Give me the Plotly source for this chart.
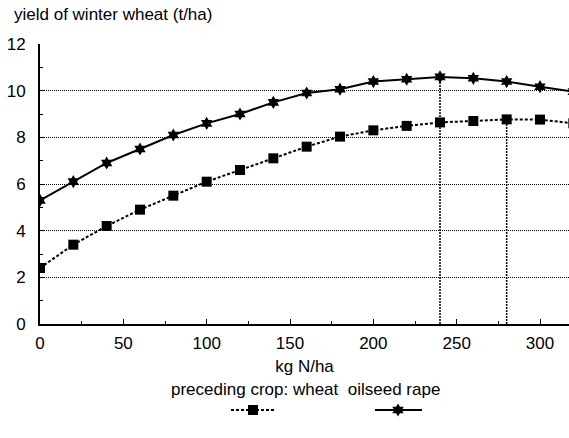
import plotly.graph_objects as go

# Nitrogen rate (kg N/ha) and winter wheat yield (t/ha) by preceding crop
n_rate = [0, 20, 40, 60, 80, 100, 120, 140, 160, 180, 200, 220, 240, 260, 280, 300, 320]
yield_after_wheat = [2.4, 3.4, 4.2, 4.9, 5.5, 6.1, 6.6, 7.1, 7.6, 8.03, 8.3, 8.49, 8.64, 8.7, 8.77, 8.76, 8.6]
yield_after_rape = [5.3, 6.1, 6.9, 7.5, 8.1, 8.6, 9.0, 9.5, 9.9, 10.06, 10.39, 10.49, 10.59, 10.53, 10.39, 10.17, 9.96]

# Economic optimum N rates marked with drop lines
opt_rape = 240
opt_wheat = 280

y_ticks = [0, 2, 4, 6, 8, 10, 12]
x_ticks = [0, 50, 100, 150, 200, 250, 300]

W, H = 569, 438
FONT = "Liberation Sans, Arial, sans-serif"
FS = 17

fig = go.Figure()

# Drop lines from the optimum points to the x axis
for xo, xs, ys in [(opt_rape, n_rate, yield_after_rape), (opt_wheat, n_rate, yield_after_wheat)]:
    yo = ys[xs.index(xo)]
    fig.add_trace(go.Scatter(
        x=[xo, xo], y=[0, yo], mode="lines",
        line=dict(color="black", width=1.5, dash="2px,1px"),
        showlegend=False, hoverinfo="skip"))

fig.add_trace(go.Scatter(
    x=n_rate, y=yield_after_wheat, mode="lines+markers", name="wheat",
    line=dict(color="black", width=2, dash="3px,2px"),
    marker=dict(symbol="square", size=10, color="black"),
    showlegend=False))

fig.add_trace(go.Scatter(
    x=n_rate, y=yield_after_rape, mode="lines+markers", name="oilseed rape",
    line=dict(color="black", width=2),
    marker=dict(symbol="hexagram", size=10, color="black"),
    showlegend=False))

# Legend keys drawn on a full-page overlay axis (pixel units)
fig.add_trace(go.Scatter(
    x=[231, 275], y=[410, 410], mode="lines", xaxis="x2", yaxis="y2",
    line=dict(color="black", width=2, dash="3px,2px"), showlegend=False, hoverinfo="skip"))
fig.add_trace(go.Scatter(
    x=[253], y=[410], mode="markers", xaxis="x2", yaxis="y2",
    marker=dict(symbol="square", size=10, color="black"), showlegend=False, hoverinfo="skip"))
fig.add_trace(go.Scatter(
    x=[375, 422], y=[410, 410], mode="lines", xaxis="x2", yaxis="y2",
    line=dict(color="black", width=2), showlegend=False, hoverinfo="skip"))
fig.add_trace(go.Scatter(
    x=[398], y=[410], mode="markers", xaxis="x2", yaxis="y2",
    marker=dict(symbol="hexagram", size=10, color="black"), showlegend=False, hoverinfo="skip"))

x0_px, y_top_px, y_bot_px = 40, 44, 324

fig.update_layout(
    width=W, height=H,
    margin=dict(l=0, r=0, t=0, b=0),
    paper_bgcolor="white", plot_bgcolor="rgba(0,0,0,0)",
    font=dict(family=FONT, size=FS, color="black"),
    xaxis=dict(
        domain=[x0_px / W, 1], range=[0, 317.4], automargin=False,
        tickvals=x_ticks, ticks="inside", ticklen=5, tickcolor="black", tickwidth=1,
        minor=dict(dtick=25, tick0=0, ticks="inside", ticklen=3, tickcolor="black"),
        showgrid=False, zeroline=False,
        showline=True, linecolor="black", linewidth=2,
        title=dict(text="kg N/ha", standoff=8, font=dict(size=FS)),
        ticklabelstandoff=3, tickfont=dict(size=FS),
    ),
    yaxis=dict(
        domain=[(H - y_bot_px) / H, (H - y_top_px) / H], range=[0, 12], automargin=False,
        tickvals=y_ticks, ticks="inside", ticklen=5, tickcolor="black", tickwidth=1,
        minor=dict(dtick=1, tick0=0, ticks="inside", ticklen=3, tickcolor="black", showgrid=False),
        showgrid=True, gridcolor="black", griddash="1px,1px", gridwidth=1.3,
        zeroline=False,
        showline=True, linecolor="black", linewidth=2,
        ticklabelstandoff=9, tickfont=dict(size=FS),
    ),
    xaxis2=dict(domain=[0, 1], range=[0, W], visible=False, fixedrange=True, automargin=False),
    yaxis2=dict(domain=[0, 1], range=[H, 0], visible=False, fixedrange=True, automargin=False),
    annotations=[
        dict(text="yield of winter wheat (t/ha)", xref="paper", yref="paper",
             x=12 / W, y=1 - 14 / H, xanchor="left", yanchor="middle",
             showarrow=False, font=dict(size=FS)),
        dict(text="preceding crop: wheat  oilseed rape", xref="paper", yref="paper",
             x=305 / W, y=1 - 389 / H, xanchor="center", yanchor="middle",
             showarrow=False, font=dict(size=FS)),
    ],
)

fig.write_html("out.html")
